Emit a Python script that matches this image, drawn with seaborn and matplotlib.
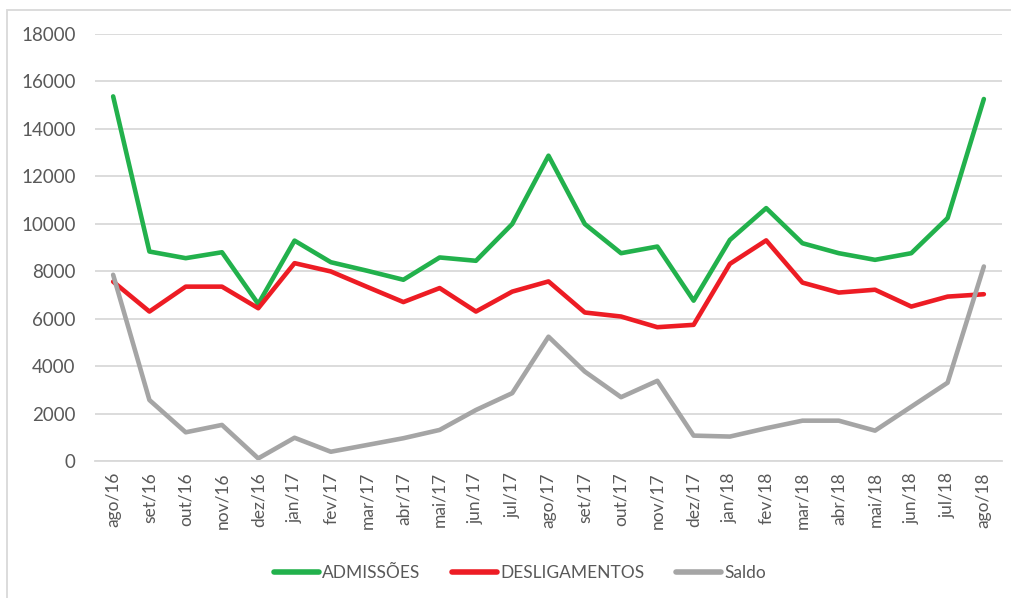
import matplotlib
matplotlib.use("Agg")
import matplotlib.pyplot as plt
import seaborn as sns
import pandas as pd
from matplotlib.patches import Rectangle
from matplotlib.ticker import FixedLocator
from matplotlib.lines import Line2D

months = ["ago/16", "set/16", "out/16", "nov/16", "dez/16", "jan/17", "fev/17", "mar/17",
          "abr/17", "mai/17", "jun/17", "jul/17", "ago/17", "set/17", "out/17", "nov/17",
          "dez/17", "jan/18", "fev/18", "mar/18", "abr/18", "mai/18", "jun/18", "jul/18", "ago/18"]
admissoes = [15370, 8830, 8550, 8800, 6620, 9290, 8380, 8020, 7640, 8580, 8440, 9990, 12870,
             9990, 8760, 9040, 6760, 9320, 10660, 9180, 8760, 8480, 8760, 10240, 15260]
desligamentos = [7560, 6300, 7350, 7350, 6440, 8340, 7990, 7340, 6700, 7290, 6300, 7140, 7570,
                 6260, 6090, 5640, 5740, 8310, 9300, 7520, 7100, 7220, 6510, 6930, 7030]
saldo = [7850, 2570, 1210, 1520, 110, 980, 390, 675, 960, 1310, 2150, 2860, 5240,
         3770, 2690, 3380, 1070, 1030, 1380, 1700, 1700, 1280, 2290, 3300, 8200]
series_names = ["ADMISSÕES", "DESLIGAMENTOS", "Saldo"]
y_ticks = [0, 2000, 4000, 6000, 8000, 10000, 12000, 14000, 16000, 18000]

colors = ["#22B14C", "#ED1C24", "#A5A5A5"]

sns.set_theme(style="white")
plt.rcParams["font.family"] = ["Lato", "DejaVu Sans"]

df = pd.DataFrame({
    "idx": list(range(len(months))) * 3,
    "valor": admissoes + desligamentos + saldo,
    "serie": [series_names[0]] * len(months) + [series_names[1]] * len(months) + [series_names[2]] * len(months),
})

fig = plt.figure(figsize=(10.12, 5.98), dpi=100)
ax = fig.add_axes([95 / 1012, 1 - 461 / 598, (1002 - 95) / 1012, (461 - 34) / 598])

sns.lineplot(data=df, x="idx", y="valor", hue="serie", palette=colors, linewidth=3.3,
             ax=ax, legend=False, solid_capstyle="round")

ax.set_xlim(-0.5, len(months) - 0.5)
ax.set_ylim(0, 18000)
ax.set_yticks(y_ticks)
ax.set_yticklabels([str(v) for v in y_ticks], color="#595959", fontsize=13.5)
ax.yaxis.grid(True, color="#D9D9D9", linewidth=1.3)
ax.set_axisbelow(True)
ax.tick_params(axis="y", length=0, pad=14)

ax.set_xticks(range(len(months)))
ax.set_xticklabels(months, rotation=90, color="#595959", fontsize=12.5, va="top")
ax.tick_params(axis="x", which="major", length=0, pad=8)
ax.xaxis.set_minor_locator(FixedLocator([i - 0.5 for i in range(len(months) + 1)]))
ax.tick_params(axis="x", which="minor", length=5, color="#D9D9D9", width=1.3, direction="out")
ax.set_xlabel("")
ax.set_ylabel("")

for s in ["left", "right", "top"]:
    ax.spines[s].set_visible(False)
ax.spines["bottom"].set_color("#D9D9D9")
ax.spines["bottom"].set_linewidth(1.3)

# legend
handles = [Line2D([0], [0], color=c, linewidth=4, solid_capstyle="round") for c in colors]
fig.legend(handles, series_names, loc="center", bbox_to_anchor=(520 / 1012, 1 - 573 / 598),
           ncol=3, frameon=False, fontsize=12.5, handlelength=2.6, handletextpad=0.2,
           columnspacing=1.8, labelcolor="#595959")

# chart border
fig.patches.append(Rectangle((7 / 1012, -0.05), 1.1, 1.05 - 10 / 598, transform=fig.transFigure,
                             fill=False, edgecolor="#D9D9D9", linewidth=1.3))

fig.savefig("out.png", dpi=100)
